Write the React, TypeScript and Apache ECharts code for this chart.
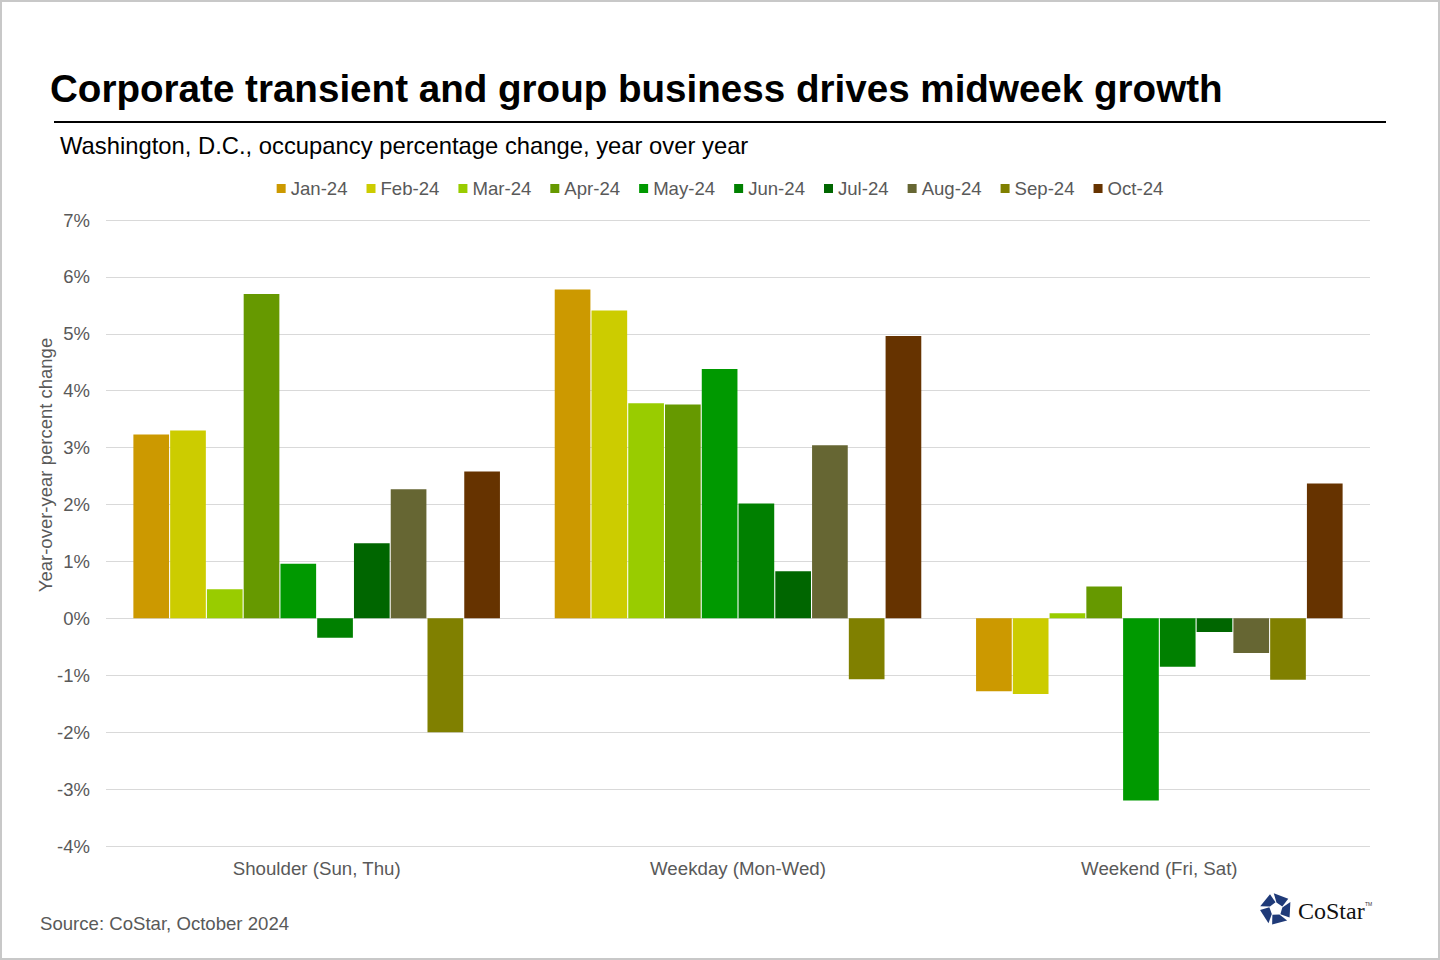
import { useEffect, useRef } from 'react';
import * as echarts from 'echarts';

const FONT = '"Liberation Sans", Arial, sans-serif';

const categories = ['Shoulder (Sun, Thu)', 'Weekday (Mon-Wed)', 'Weekend (Fri, Sat)'];
const months = ['Jan-24', 'Feb-24', 'Mar-24', 'Apr-24', 'May-24', 'Jun-24', 'Jul-24', 'Aug-24', 'Sep-24', 'Oct-24'];
const monthColors = ['#cc9900', '#cccc00', '#99cc00', '#669900', '#009900', '#008000', '#006600', '#666633', '#808000', '#663300'];

// values per month: [Shoulder, Weekday, Weekend]
const jan24 = [3.23, 5.78, -1.28];
const feb24 = [3.3, 5.41, -1.33];
const mar24 = [0.51, 3.78, 0.09];
const apr24 = [5.7, 3.76, 0.56];
const may24 = [0.96, 4.38, -3.2];
const jun24 = [-0.34, 2.02, -0.85];
const jul24 = [1.32, 0.83, -0.24];
const aug24 = [2.27, 3.04, -0.61];
const sep24 = [-2.0, -1.07, -1.08];
const oct24 = [2.58, 4.96, 2.37];
const monthValues = [jan24, feb24, mar24, apr24, may24, jun24, jul24, aug24, sep24, oct24];

const yMin = -4;
const yMax = 7;

// CoStar logo mark: five pinwheel blades around a pentagon
function logoBlades(cx: number, cy: number, rOut: number, rIn: number) {
  const pt = (deg: number, r: number) => {
    const a = (deg * Math.PI) / 180;
    return [cx + r * Math.cos(a), cy + r * Math.sin(a)];
  };
  const blades: any[] = [];
  for (let i = 0; i < 5; i++) {
    const a = -90 + i * 72;
    blades.push({
      type: 'polygon',
      shape: {
        points: [pt(a + 4, rIn), pt(a - 8, rOut), pt(a + 50, rOut), pt(a + 72 - 4, rIn * 1.05)],
      },
      style: { fill: '#1f3a78' },
    });
  }
  return blades;
}

export default function App() {
  const chartRef = useRef<HTMLDivElement>(null);

  useEffect(() => {
    document.body.style.margin = '0';
    if (!chartRef.current) return;
    const chart = echarts.init(chartRef.current, null, { renderer: 'svg' });

    chart.setOption({
      animation: false,
      backgroundColor: '#ffffff',
      textStyle: { fontFamily: FONT },
      legend: {
        top: 174,
        left: 'center',
        itemWidth: 9,
        itemHeight: 9,
        itemGap: 19,
        icon: 'rect',
        textStyle: { fontSize: 18.6, color: '#595959', fontFamily: FONT },
        data: months,
      },
      grid: { left: 106, right: 70, top: 220, bottom: 114, containLabel: false },
      xAxis: {
        type: 'category',
        data: categories,
        axisLine: { show: false },
        axisTick: { show: false },
        axisLabel: { fontSize: 18.7, color: '#595959', margin: 13, fontFamily: FONT },
      },
      yAxis: {
        type: 'value',
        min: yMin,
        max: yMax,
        interval: 1,
        axisLine: { show: false },
        axisTick: { show: false },
        axisLabel: { formatter: '{value}%', fontSize: 18.5, color: '#595959', margin: 16, fontFamily: FONT },
        splitLine: { lineStyle: { color: '#d9d9d9', width: 1 } },
      },
      series: months.map((m, i) => ({
        name: m,
        type: 'bar',
        data: monthValues[i],
        barGap: '3%',
        barCategoryGap: '13%',
        itemStyle: { color: monthColors[i] },
      })),
      graphic: [
        {
          type: 'rect',
          shape: { x: 1, y: 1, width: 1438, height: 958 },
          style: { fill: 'none', stroke: '#c8c8c8', lineWidth: 2 },
          silent: true,
        },
        {
          type: 'text',
          x: 50,
          y: 88,
          style: {
            text: 'Corporate transient and group business drives midweek growth',
            font: `bold 38.6px ${FONT}`,
            fill: '#000000',
            verticalAlign: 'middle',
          },
        },
        {
          type: 'line',
          shape: { x1: 54, y1: 122, x2: 1386, y2: 122 },
          style: { stroke: '#000000', lineWidth: 2 },
        },
        {
          type: 'text',
          x: 60,
          y: 145,
          style: {
            text: 'Washington, D.C., occupancy percentage change, year over year',
            font: `23.8px ${FONT}`,
            fill: '#000000',
            verticalAlign: 'middle',
          },
        },
        {
          type: 'text',
          x: 45,
          y: 465,
          rotation: Math.PI / 2,
          style: {
            text: 'Year-over-year percent change',
            font: `18.5px ${FONT}`,
            fill: '#595959',
            align: 'center',
            verticalAlign: 'middle',
          },
        },
        {
          type: 'text',
          x: 40,
          y: 923,
          style: {
            text: 'Source: CoStar, October 2024',
            font: `18.6px ${FONT}`,
            fill: '#595959',
            verticalAlign: 'middle',
          },
        },
        ...logoBlades(1276, 909, 16, 6.5),
        {
          type: 'text',
          x: 1298,
          y: 911,
          style: {
            text: 'CoStar',
            font: `24px "Liberation Serif", "DejaVu Serif", serif`,
            fill: '#111111',
            verticalAlign: 'middle',
          },
        },
        {
          type: 'text',
          x: 1365,
          y: 904,
          style: {
            text: 'TM',
            font: `5px ${FONT}`,
            fill: '#333333',
            verticalAlign: 'middle',
          },
        },
      ],
    });

    return () => chart.dispose();
  }, []);

  return <div ref={chartRef} style={{ width: 1440, height: 960 }} />;
}
